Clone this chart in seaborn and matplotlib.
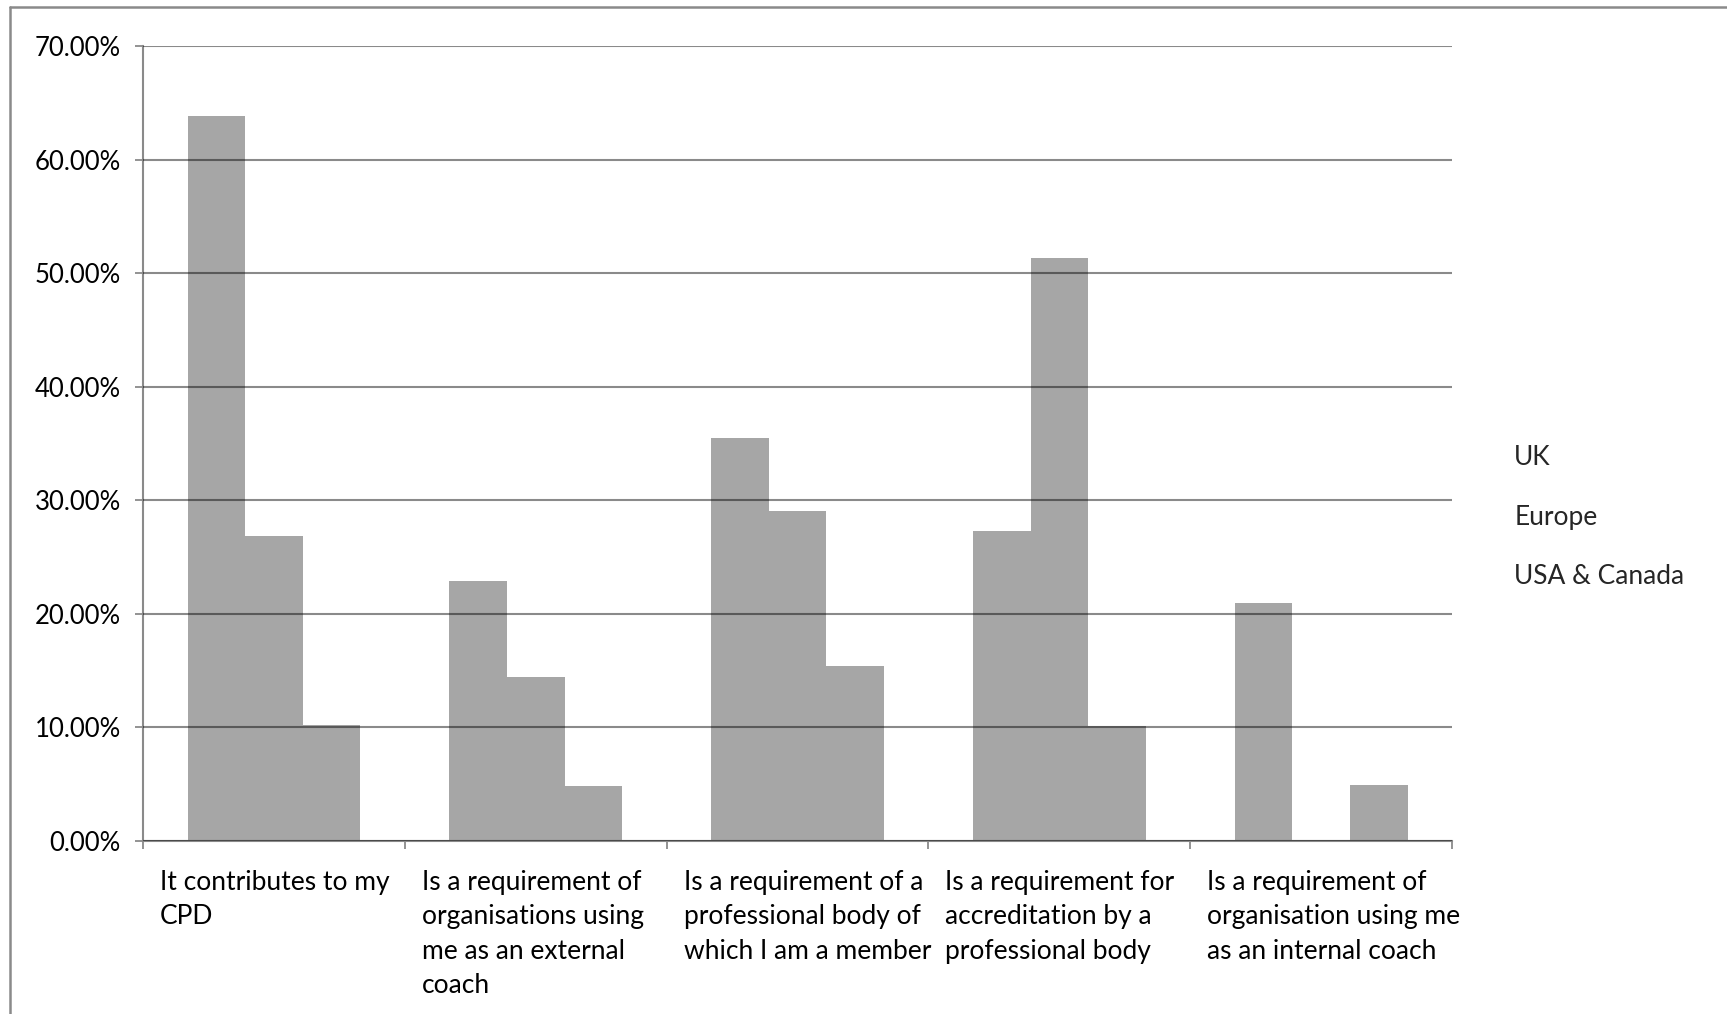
import numpy as np
import pandas as pd
import matplotlib
matplotlib.use("Agg")
import matplotlib.pyplot as plt
import seaborn as sns
from matplotlib.lines import Line2D
from matplotlib.ticker import FuncFormatter
from matplotlib.transforms import ScaledTranslation

# Survey: reasons for undertaking coaching supervision, by region (% of respondents)
categories = [
    "It contributes to my\nCPD",
    "Is a requirement of\norganisations using\nme as an external\ncoach",
    "Is a requirement of a\nprofessional body of\nwhich I am a member",
    "Is a requirement for\naccreditation by a\nprofessional body",
    "Is a requirement of\norganisation using me\nas an internal coach",
]
regions = ["UK", "Europe", "USA & Canada"]
uk = [63.8, 22.9, 35.5, 27.3, 21.0]
europe = [26.9, 14.4, 29.1, 51.3, 0.0]
usa_canada = [10.2, 4.8, 15.4, 10.1, 4.9]
y_ticks = [0, 10, 20, 30, 40, 50, 60, 70]

df = pd.DataFrame({
    "category": categories * 3,
    "region": [r for r in regions for _ in categories],
    "value": uk + europe + usa_canada,
})

sns.set_theme(style="white")
plt.rcParams["font.family"] = ["Lato", "DejaVu Sans"]

fig = plt.figure(figsize=(17.27, 10.14), dpi=100)
ax = fig.add_axes([0.0828, 0.1706, 0.758, 0.784])

bar_grey = "#a6a6a6"
axis_grey = "#8a8a8a"
fs = 18.5
fs_x = 19.0

sns.barplot(
    data=df, x="category", y="value", hue="region",
    order=categories, hue_order=regions,
    palette=[bar_grey] * 3, saturation=1, width=0.66,
    linewidth=0, errorbar=None, ax=ax,
)

ax.set_xlim(-0.5, len(categories) - 0.5)
ax.set_ylim(0, 70)
ax.set_yticks(y_ticks)
ax.yaxis.set_major_formatter(FuncFormatter(lambda v, p: f"{v:.2f}%"))
ax.set_xlabel("")
ax.set_ylabel("")

# gridlines sit on top of the bars and darken where they cross them
ax.set_axisbelow(False)
ax.yaxis.grid(True, color="black", alpha=0.46, linewidth=1.5)
ax.xaxis.grid(False)

for side in ("top", "right"):
    ax.spines[side].set_visible(False)
for side in ("left", "bottom"):
    ax.spines[side].set_color(axis_grey)
    ax.spines[side].set_linewidth(1.5)

ax.tick_params(axis="both", direction="out", length=6, width=1.3,
               color=axis_grey, labelcolor="black")
ax.tick_params(axis="y", pad=10, left=True, labelsize=fs)
ax.tick_params(axis="x", pad=15, bottom=True, labelsize=fs_x)

# category ticks sit on the group boundaries, labels start just right of them
ax.set_xticks(np.arange(len(categories) + 1) - 0.5)
ax.set_xticklabels(categories + [""], ha="left", va="top", linespacing=1.46)
shift = ScaledTranslation(17 / 100, 0, fig.dpi_scale_trans)
for lab in ax.get_xticklabels():
    lab.set_transform(lab.get_transform() + shift)

# text-only legend
handles, labels = ax.get_legend_handles_labels()
ax.legend_.remove()
leg = fig.legend(
    handles, labels, loc="center left",
    bbox_to_anchor=(1501 / 1727, 1 - 517 / 1014), bbox_transform=fig.transFigure,
    frameon=False, handlelength=0, handletextpad=0, borderpad=0,
    labelspacing=1.32, fontsize=fs_x,
)
for h in leg.legend_handles:
    h.set_visible(False)

# outer frame (left and top edges)
x0 = 10 / 1727
y1 = 1 - 6.5 / 1014
fig.add_artist(Line2D([x0, x0], [0, y1], transform=fig.transFigure,
                      color=axis_grey, linewidth=1.8))
fig.add_artist(Line2D([x0, 1], [y1, y1], transform=fig.transFigure,
                      color=axis_grey, linewidth=1.8))

fig.savefig("out.png", dpi=100)
